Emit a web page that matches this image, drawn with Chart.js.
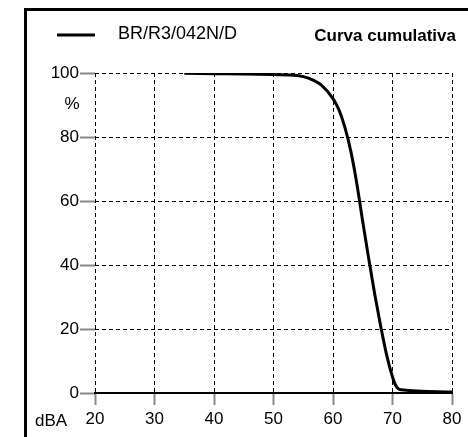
<!DOCTYPE html>
<html>
<head>
<meta charset="utf-8">
<script src="https://cdn.jsdelivr.net/npm/chart.js@4/dist/chart.umd.min.js"></script>
<style>
  html, body { margin: 0; padding: 0; background: #fff; }
  #wrap { width: 468px; height: 437px; position: relative; }
</style>
</head>
<body>
<div id="wrap"><canvas id="myChart" width="468" height="437"></canvas></div>
<script>
const seriesName = 'BR/R3/042N/D';
const titleText = 'Curva cumulativa';

// dBA levels and cumulative percentages
const levels = [35, 40, 45, 50, 54, 56, 58, 60, 61, 62, 63, 64, 65, 66, 67, 68, 69, 70, 70.5, 71, 71.5, 80];
const cumulative = [99.9, 99.8, 99.7, 99.5, 99.2, 98.3, 96.3, 92, 88.5, 83, 75.5, 65.5, 53.5, 42, 31, 21, 12, 5, 2.5, 1.3, 1, 0.3];

const points = levels.map((x, i) => ({ x: x, y: cumulative[i] }));

const FONT = '"Liberation Sans", Arial, sans-serif';

const frameAndText = {
   id: 'frameAndText',
   afterDraw(chart) {
      const ctx = chart.ctx;
      ctx.save();
      // outer frame (runs off the right and bottom edges)
      ctx.strokeStyle = '#000';
      ctx.lineWidth = 3;
      ctx.strokeRect(25.5, 9.5, 500, 500);
      // legend
      ctx.beginPath();
      ctx.moveTo(57, 35);
      ctx.lineTo(95, 35);
      ctx.stroke();
      ctx.fillStyle = '#000';
      ctx.textBaseline = 'middle';
      ctx.font = '18px ' + FONT;
      ctx.textAlign = 'left';
      ctx.fillText(seriesName, 118, 34);
      ctx.font = 'bold 17px ' + FONT;
      ctx.textAlign = 'right';
      ctx.fillText(titleText, 456, 36);
      // axis unit labels
      ctx.font = '17px ' + FONT;
      ctx.textAlign = 'center';
      ctx.fillText('%', 72, 104);
      ctx.fillText('dBA', 51, 421);
      ctx.restore();
   }
};

const config = {
   type: 'line',
   data: {
      datasets: [
         {
            label: seriesName,
            data: points,
            borderColor: '#000',
            borderWidth: 3,
            pointRadius: 0,
            fill: false,
            cubicInterpolationMode: 'monotone',
         },
      ],
   },
   options: {
      responsive: false,
      animation: false,
      layout: {
         padding: { top: 73, right: 16, left: 0, bottom: 0 },
      },
      plugins: {
         legend: { display: false },
         tooltip: { enabled: false },
      },
      scales: {
         x: {
            type: 'linear',
            min: 20,
            max: 80,
            afterFit(scale) { scale.height = 44; },
            ticks: {
               stepSize: 10,
               color: '#000',
               padding: 4,
               font: { family: FONT, size: 17 },
            },
            grid: {
               color: '#000',
               lineWidth: 1,
               tickLength: 12,
               tickColor: '#888',
               tickWidth: 2,
               tickBorderDash: [],
            },
            border: { display: true, color: '#000', width: 2, dash: [4, 3] },
         },
         y: {
            min: 0,
            max: 100,
            afterFit(scale) { scale.width = 95; },
            ticks: {
               stepSize: 20,
               color: '#000',
               padding: 1,
               font: { family: FONT, size: 17 },
            },
            grid: {
               color: '#000',
               lineWidth: 1,
               tickLength: 15,
               tickColor: '#888',
               tickWidth: 2,
               tickBorderDash: [],
            },
            border: { display: false, dash: [4, 3] },
         },
      },
   },
   plugins: [frameAndText],
};
const myChart = new Chart(document.getElementById('myChart'), config);
</script>
</body>
</html>
